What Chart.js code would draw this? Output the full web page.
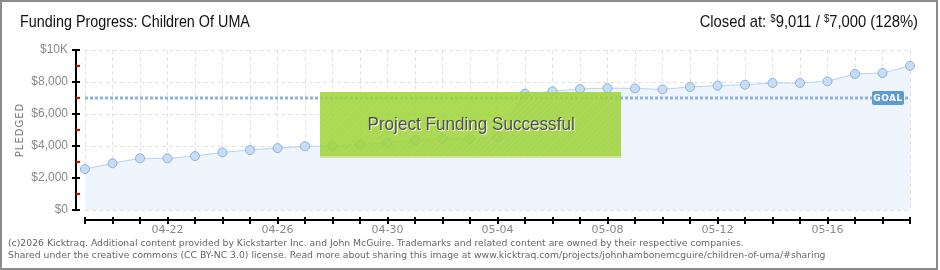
<!DOCTYPE html>
<html>
<head>
<meta charset="utf-8">
<script src="https://cdn.jsdelivr.net/npm/chart.js@4/dist/chart.umd.min.js"></script>
<style>
    html, body { margin: 0; padding: 0; background: #fff; }
    #wrap { position: relative; width: 940px; height: 270px; overflow: hidden; }
    #frame { position: absolute; left: 0; top: 0; width: 934px; height: 266px; border: 2px solid #8c8c8c; }
    #chart { position: absolute; left: 0; top: 0; }
    .title { position: absolute; left: 20px; top: 12px; font: 17px "Liberation Sans", sans-serif; color: #111;
             transform: scaleX(0.845); transform-origin: left top; white-space: nowrap; }
    .closed { position: absolute; right: 22px; top: 12px; font: 17px "Liberation Sans", sans-serif; color: #111;
              transform: scaleX(0.87); transform-origin: right top; white-space: nowrap; }
    .closed sup { font-size: 11px; vertical-align: 5px; line-height: 0; }
    .success {
        position: absolute; left: 320px; top: 92px; width: 301px; height: 64px;
        border-bottom: 2px solid #cfe39a;
        background-color: rgba(158, 212, 58, 0.88);
        background-image: repeating-linear-gradient(135deg, rgba(255,255,255,0.06) 0 1px, transparent 1px 4px);
        display: flex; align-items: center; justify-content: center;
    }
    .success span { font: 19px "Liberation Sans", sans-serif; color: #4f4f4f; text-shadow: 1px 1px 0 #fff;
                    transform: scaleX(0.9); white-space: nowrap; margin-left: 2px; }
    .footer { position: absolute; left: 8px; top: 237px; font: 9.5px "DejaVu Sans", sans-serif; color: #666; line-height: 12px;
              white-space: nowrap; transform: scaleX(0.976); transform-origin: left top; }
</style>
</head>
<body>
<div id="wrap">
    <canvas id="chart" width="940" height="270"></canvas>
    <div id="frame"></div>
    <div class="title">Funding Progress: Children Of UMA</div>
    <div class="closed">Closed at: <sup>$</sup>9,011 / <sup>$</sup>7,000 (128%)</div>
    <div class="success"><span>Project Funding Successful</span></div>
    <div class="footer">(c)2026 Kicktraq. Additional content provided by Kickstarter Inc. and John McGuire. Trademarks and related content are owned by their respective companies.<br>Shared under the creative commons (CC BY-NC 3.0) license. Read more about sharing this image at www.kicktraq.com/projects/johnhambonemcguire/children-of-uma/#sharing</div>
</div>
<script>
// 数据
const dates = [
    '04-19', '04-20', '04-21', '04-22', '04-23', '04-24', '04-25', '04-26', '04-27', '04-28', '04-29', '04-30',
    '05-01', '05-02', '05-03', '05-04', '05-05', '05-06', '05-07', '05-08', '05-09', '05-10', '05-11', '05-12',
    '05-13', '05-14', '05-15', '05-16', '05-17', '05-18', '05-19'
];
const pledged = [
    2560, 2920, 3230, 3230, 3370, 3600, 3750, 3870, 3980, 3980, 4100, 4190,
    4370, 4440, 4440, 4540, 7270, 7420, 7560, 7620, 7600, 7540, 7690, 7770,
    7830, 7940, 7940, 8040, 8500, 8560, 9011
];
const goal = 7000;
const goalLine = dates.map(() => goal);
const yTicks = [0, 2000, 4000, 6000, 8000, 10000];
const yTickLabels = ['$0', '$2,000', '$4,000', '$6,000', '$8,000', '$10K'];
const yMinorTicks = [1000, 3000, 5000, 7000, 9000];
const xLabelDates = ['04-22', '04-26', '04-30', '05-04', '05-08', '05-12', '05-16'];

// 偏移坐标轴
const axesPlugin = {
    id: 'offsetAxes',
    afterDraw(chart) {
        const { ctx, chartArea: area, scales: { x, y } } = chart;
        ctx.save();

        // y 轴
        const axisX = area.left - 9;
        ctx.strokeStyle = '#000';
        ctx.lineWidth = 2;
        ctx.beginPath();
        ctx.moveTo(axisX, y.getPixelForValue(10000));
        ctx.lineTo(axisX, y.getPixelForValue(0));
        ctx.stroke();
        ctx.font = '12px "Liberation Sans", sans-serif';
        ctx.fillStyle = '#8a8a8a';
        ctx.textAlign = 'right';
        ctx.textBaseline = 'middle';
        yTicks.forEach((v, i) => {
            const py = Math.round(y.getPixelForValue(v));
            ctx.strokeStyle = '#000';
            ctx.beginPath();
            ctx.moveTo(axisX - 4, py);
            ctx.lineTo(axisX + 4, py);
            ctx.stroke();
            ctx.fillText(yTickLabels[i], axisX - 8, py);
        });
        ctx.strokeStyle = '#e00';
        yMinorTicks.forEach(v => {
            const py = Math.round(y.getPixelForValue(v));
            ctx.beginPath();
            ctx.moveTo(axisX, py);
            ctx.lineTo(axisX + 4, py);
            ctx.stroke();
        });

        // y 轴标题
        ctx.save();
        ctx.translate(20, (area.top + area.bottom) / 2);
        ctx.rotate(-Math.PI / 2);
        ctx.font = '10px "DejaVu Sans", sans-serif';
        ctx.letterSpacing = '1px';
        ctx.fillStyle = '#777';
        ctx.textAlign = 'center';
        ctx.fillText('PLEDGED', 0, 0);
        ctx.restore();

        // x 轴
        const axisY = area.bottom + 10;
        ctx.strokeStyle = '#000';
        ctx.lineWidth = 2;
        ctx.beginPath();
        ctx.moveTo(area.left, axisY);
        ctx.lineTo(area.right, axisY);
        ctx.stroke();
        dates.forEach((d, i) => {
            const px = Math.round(x.getPixelForValue(i));
            ctx.beginPath();
            ctx.moveTo(px, axisY - 3);
            ctx.lineTo(px, axisY + 4);
            ctx.stroke();
        });
        ctx.font = '11px "DejaVu Sans", sans-serif';
        ctx.fillStyle = '#888';
        ctx.textAlign = 'center';
        ctx.textBaseline = 'top';
        xLabelDates.forEach(d => {
            const px = x.getPixelForValue(dates.indexOf(d));
            ctx.fillText(d, px, axisY + 5);
        });

        // GOAL 标签
        const gy = y.getPixelForValue(goal);
        ctx.fillStyle = '#5c9ad8';
        ctx.beginPath();
        ctx.roundRect(area.right - 38, gy - 7, 32, 14, 2);
        ctx.fill();
        ctx.font = 'bold 9px "DejaVu Sans", sans-serif';
        ctx.letterSpacing = '0.5px';
        ctx.fillStyle = '#fff';
        ctx.textAlign = 'center';
        ctx.textBaseline = 'middle';
        ctx.fillText('GOAL', area.right - 22, gy + 0.5);

        ctx.restore();
    }
};

new Chart(document.getElementById('chart').getContext('2d'), {
    type: 'line',
    data: {
        labels: dates,
        datasets: [{
            label: 'Pledged',
            data: pledged,
            borderColor: '#b5d3f2',
            borderWidth: 1,
            backgroundColor: '#eef5fd',
            fill: 'origin',
            tension: 0,
            pointRadius: 4.5,
            pointBackgroundColor: '#c6ddf7',
            pointBorderColor: '#8fb0d8',
            pointBorderWidth: 1,
            clip: false,
            order: 1
        }, {
            label: 'Goal',
            data: goalLine,
            borderColor: '#8db3e3',
            borderWidth: 3,
            borderDash: [3, 2],
            pointRadius: 0,
            fill: false,
            order: 0
        }]
    },
    plugins: [axesPlugin],
    options: {
        responsive: false,
        animation: false,
        layout: { padding: { left: 85, right: 30, top: 50, bottom: 60 } },
        plugins: {
            legend: { display: false },
            tooltip: { enabled: false }
        },
        scales: {
            x: {
                ticks: { display: false },
                grid: { color: '#e2e2e2', drawTicks: false },
                border: { display: false, dash: [4, 3] }
            },
            y: {
                min: 0,
                max: 10000,
                ticks: { display: false, stepSize: 2000 },
                grid: { color: '#e2e2e2', drawTicks: false },
                border: { display: false, dash: [4, 3] }
            }
        }
    }
});
</script>
</body>
</html>
